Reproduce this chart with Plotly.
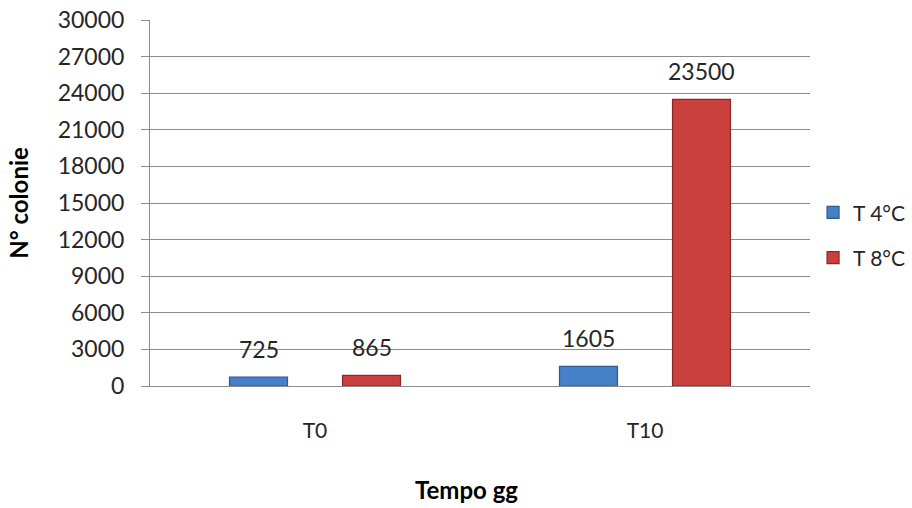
import plotly.graph_objects as go

categories = ["T0", "T10"]
t4_values = [725, 1605]
t8_values = [865, 23500]
series_names = ["T 4°C", "T 8°C"]
y_ticks = list(range(0, 30001, 3000))

FONT = "Lato, Open Sans, sans-serif"
blue = "#4680C8"
red = "#C9403E"
TXT = "#262626"

fig = go.Figure()
fig.add_trace(go.Bar(x=categories, y=t4_values, name=series_names[0],
                     marker=dict(color=blue, line=dict(color="#2E5A8E", width=1.2)),
                     legendgroup="a"))
fig.add_trace(go.Bar(x=categories, y=t8_values, name=series_names[1],
                     marker=dict(color=red, line=dict(color="#8A2826", width=1.2)),
                     legendgroup="b"))

for vals, shift in [(t4_values, -56.5), (t8_values, 56.5)]:
    for c, v in zip(categories, vals):
        fig.add_annotation(x=c, y=v, text=str(v), showarrow=False, xshift=shift,
                           yanchor="bottom", yshift=12,
                           font=dict(family=FONT, size=23, color=TXT))

# x-axis title (slightly left of centre, as in the reference)
fig.add_annotation(xref="paper", yref="paper", x=0.48, y=-0.284,
                   text="<b>Tempo gg</b>", showarrow=False, yanchor="middle",
                   font=dict(family=FONT, size=24, color="black"))

fig.update_layout(
    width=912, height=508,
    margin=dict(l=150, r=102, t=20, b=122, autoexpand=False),
    paper_bgcolor="white", plot_bgcolor="white",
    barmode="group", bargap=0.315, bargroupgap=0.487,
    font=dict(family=FONT, size=21, color=TXT),
    showlegend=True,
    legend=dict(xref="container", yref="container", x=0.8915, xanchor="left",
                y=0.537, yanchor="middle",
                font=dict(family=FONT, size=21, color=TXT),
                tracegroupgap=15, bgcolor="rgba(0,0,0,0)"),
    xaxis=dict(showline=True, linecolor="#8C8C8C", linewidth=1, automargin=False,
               ticks="", tickfont=dict(family=FONT, size=21, color=TXT),
               ticklabelstandoff=26),
    yaxis=dict(range=[0, 30000], tickvals=y_ticks, ticktext=[str(t) for t in y_ticks],
               showgrid=True, gridcolor="#8C8C8C", gridwidth=1, automargin=False,
               showline=True, linecolor="#8C8C8C", linewidth=1,
               ticks="outside", ticklen=8, tickcolor="#8C8C8C",
               tickfont=dict(family=FONT, size=23, color=TXT),
               ticklabelstandoff=12, ticklabeloverflow="allow",
               zeroline=False,
               title=dict(text="<b>N° colonie</b>", font=dict(family=FONT, size=24, color="black"),
                          standoff=22)),
)

fig.write_html("out.html", config={"displayModeBar": False},
               post_script="document.body.style.margin='0';")
